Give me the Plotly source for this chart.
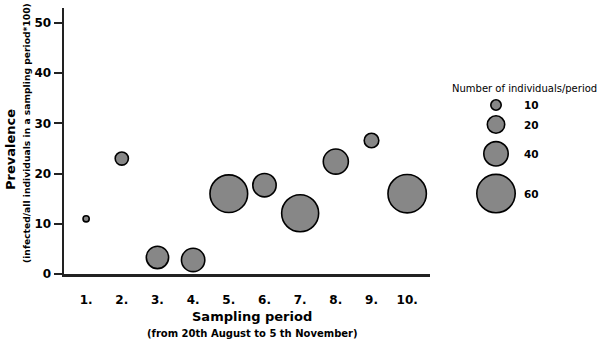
import numpy as np
import plotly.graph_objects as go

# ---- data ----
periods = [1, 2, 3, 4, 5, 6, 7, 8, 9, 10]
period_labels = ["1.", "2.", "3.", "4.", "5.", "6.", "7.", "8.", "9.", "10."]
prevalence = [11.0, 23.0, 3.3, 2.8, 16.0, 17.7, 12.1, 22.4, 26.6, 16.0]
individuals = [4, 14, 34, 37, 59, 37, 58, 41, 16, 60]
legend_values = [10, 20, 40, 60]
y_ticks = [0, 10, 20, 30, 40, 50]

# ---- size scale (legend key sizes, px diameter) ----
scale_n = [0, 10, 20, 40, 60]
scale_d = [5, 12, 19, 26, 40]
LW = 1.6


def diam(n):
    return float(np.interp(n, scale_n, scale_d))


W, H = 600, 344
X0, X1 = 64, 430      # plot area px
YT, YB = 8, 274
FONT = "DejaVu Sans"
GRAY = "#878787"

fig = go.Figure()
fig.add_trace(go.Scatter(
    x=periods, y=prevalence, mode="markers",
    marker=dict(size=[diam(n) - LW for n in individuals], color=GRAY, opacity=1,
                line=dict(color="black", width=LW)),
    hoverinfo="skip", showlegend=False, cliponaxis=False,
))

# legend keys, stacked from their sizes
ld = [diam(v) for v in legend_values]
ly = []
cur = 105.0
for i, d in enumerate(ld):
    if i > 0:
        cur += (ld[i - 1] + d) / 2 + (4 if i == 1 else 6.8)
    ly.append(cur)
fig.add_trace(go.Scatter(
    x=[496] * len(legend_values), y=ly, mode="markers", xaxis="x2", yaxis="y2",
    marker=dict(size=[d - LW for d in ld], color=GRAY, opacity=1,
                line=dict(color="black", width=LW)),
    hoverinfo="skip", showlegend=False, cliponaxis=False,
))

annotations = []
for v, yy in zip(legend_values, ly):
    annotations.append(dict(x=522, y=yy, xref="x2", yref="y2", text=f"<b>{v}</b>",
                            showarrow=False, xanchor="left", yanchor="middle",
                            font=dict(family=FONT, size=10.5, color="black")))
annotations.append(dict(x=524, y=88, xref="x2", yref="y2", text="Number of individuals/period",
                        showarrow=False, xanchor="center", yanchor="middle",
                        font=dict(family=FONT, size=10, color="black")))
annotations.append(dict(x=10, y=150, xref="x2", yref="y2", text="<b>Prevalence</b>",
                        showarrow=False, textangle=-90, xanchor="center", yanchor="middle",
                        font=dict(family=FONT, size=13, color="black")))
annotations.append(dict(x=26, y=133, xref="x2", yref="y2",
                        text="<b>(infected/all individuals in a sampling period*100)</b>",
                        showarrow=False, textangle=-90, xanchor="center", yanchor="middle",
                        font=dict(family=FONT, size=9.2, color="black")))
annotations.append(dict(x=252, y=316, xref="x2", yref="y2", text="<b>Sampling period</b>",
                        showarrow=False, xanchor="center", yanchor="middle",
                        font=dict(family=FONT, size=13, color="black")))
annotations.append(dict(x=252, y=333, xref="x2", yref="y2",
                        text="<b>(from 20th August to 5 th November)</b>",
                        showarrow=False, xanchor="center", yanchor="middle",
                        font=dict(family=FONT, size=10, color="black")))

fig.update_layout(
    width=W, height=H,
    margin=dict(l=0, r=0, t=0, b=0, pad=0),
    paper_bgcolor="white", plot_bgcolor="rgba(0,0,0,0)",
    showlegend=False,
    annotations=annotations,
    xaxis=dict(domain=[X0 / W, X1 / W], range=[0.38, 10.64],
               tickvals=periods, ticktext=[f"<b>{t}</b>" for t in period_labels], ticks="",
               ticklabelstandoff=13,
               showgrid=False, zeroline=False, showline=True, linecolor="#222222",
               linewidth=2.5, tickfont=dict(family=FONT, size=12, color="black"),
               fixedrange=True, anchor="y", automargin=False),
    yaxis=dict(domain=[1 - YB / H, 1 - YT / H], range=[0, 53],
               tickvals=y_ticks, ticktext=[f"<b>{t}</b>" for t in y_ticks],
               ticks="outside", ticklen=8, tickwidth=2, tickcolor="#222222",
               showgrid=False, zeroline=False, showline=True, linecolor="#222222",
               linewidth=2.5, tickfont=dict(family=FONT, size=12, color="black"),
               fixedrange=True, anchor="x", automargin=False),
    xaxis2=dict(domain=[0, 1], range=[0, W], visible=False, fixedrange=True, anchor="y2",
                automargin=False),
    yaxis2=dict(domain=[0, 1], range=[H, 0], visible=False, fixedrange=True, anchor="x2",
                automargin=False),
)

fig.write_html("out.html", config={"displayModeBar": False, "staticPlot": True},
               post_script="document.body.style.margin='0';document.body.style.overflow='hidden';")
